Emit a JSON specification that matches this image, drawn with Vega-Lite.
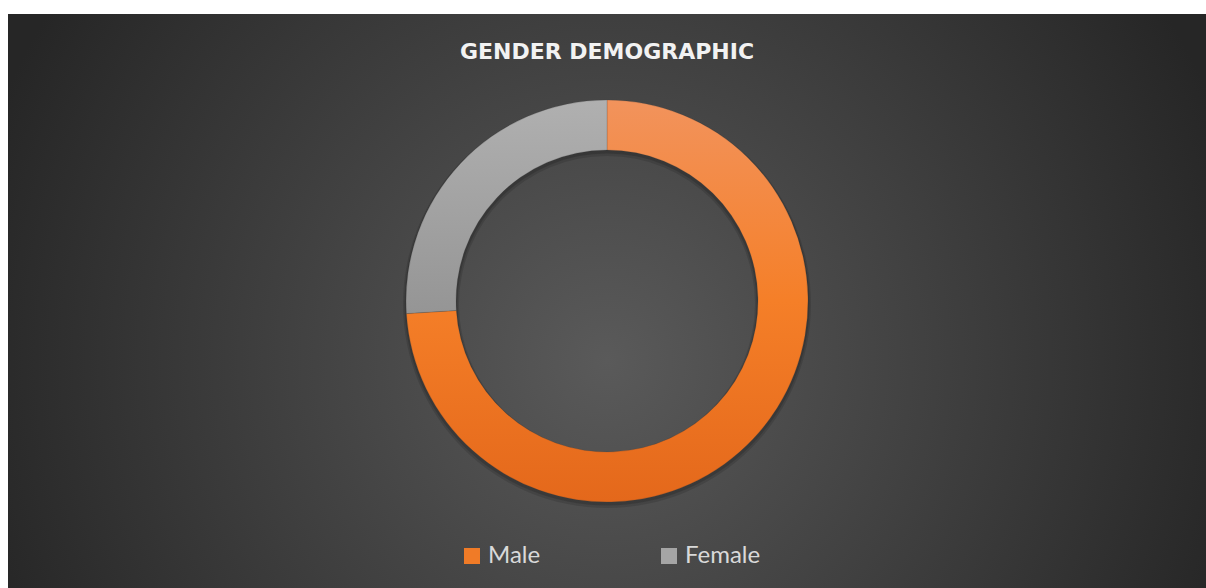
{
  "$schema": "https://vega.github.io/schema/vega-lite/v6.json",
  "width": 1198,
  "height": 574,
  "autosize": {"type": "none"},
  "padding": {"left": 8, "top": 14, "right": 0, "bottom": 0},
  "background": "#ffffff",
  "data": {
    "values": [
      {"gender": "Male", "share": 74, "order": 1},
      {"gender": "Female", "share": 26, "order": 2}
    ]
  },
  "title": {
    "text": "GENDER DEMOGRAPHIC",
    "orient": "top",
    "anchor": "middle",
    "offset": -50,
    "font": "DejaVu Sans",
    "fontSize": 22,
    "fontWeight": "bold",
    "color": "#f2f2f2"
  },
  "layer": [
    {
      "data": {"values": [{"bg": 1}]},
      "mark": {
        "type": "rect",
        "fill": {"gradient": "radial", "x1": 0.5, "y1": 0.55, "r1": 0, "x2": 0.5, "y2": 0.55, "r2": 0.55, "stops": [
          {"offset": 0, "color": "#5a5a5a"},
          {"offset": 1, "color": "#262626"}
        ]}
      },
      "encoding": {}
    },
    {
      "data": {"values": [{"ring": 1}]},
      "mark": {"type": "arc", "radius": 204, "radius2": 148, "fill": "#000000", "opacity": 0.12, "yOffset": 3},
      "encoding": {}
    },
    {
      "data": {"values": [{"ring": 1}]},
      "mark": {"type": "arc", "radius": 202.5, "radius2": 149.5, "fill": "#000000", "opacity": 0.15, "yOffset": 2},
      "encoding": {}
    },
    {
      "mark": {"type": "arc", "radius": 0, "radius2": 0},
      "encoding": {
        "theta": {"field": "share", "type": "quantitative", "stack": true},
        "order": {"field": "order", "type": "quantitative"},
        "color": {
          "field": "gender",
          "type": "nominal",
          "scale": {"domain": ["Male", "Female"], "range": ["#f07b27", "#a5a5a5"]},
          "legend": {
            "orient": "none",
            "legendX": 452,
            "legendY": 530,
            "direction": "horizontal",
            "title": null,
            "symbolType": "square",
            "symbolSize": 256,
            "symbolStrokeWidth": 0,
            "symbolOpacity": 1,
            "labelFont": "Lato",
            "labelFontSize": 24,
            "labelColor": "#d9d9d9",
            "labelOffset": 4,
            "columnPadding": 116
          }
        }
      }
    },
    {
      "mark": {"type": "arc", "radius": 201, "radius2": 151, "stroke": "#3a3a3a", "strokeWidth": 0.5, "strokeOpacity": 0.4},
      "encoding": {
        "theta": {"field": "share", "type": "quantitative", "stack": true},
        "order": {"field": "order", "type": "quantitative"},
        "fill": {
          "condition": {
            "test": "datum.gender === 'Male'",
            "value": {"gradient": "linear", "x1": 0, "y1": 0, "x2": 0, "y2": 1, "stops": [
              {"offset": 0, "color": "#f2935c"},
              {"offset": 0.5, "color": "#f57f28"},
              {"offset": 1, "color": "#e4681b"}
            ]}
          },
          "value": {"gradient": "linear", "x1": 0, "y1": 0, "x2": 0, "y2": 1, "stops": [
            {"offset": 0, "color": "#b0b0b0"},
            {"offset": 1, "color": "#959595"}
          ]}
        }
      }
    }
  ],
  "config": {"view": {"stroke": null}}
}
